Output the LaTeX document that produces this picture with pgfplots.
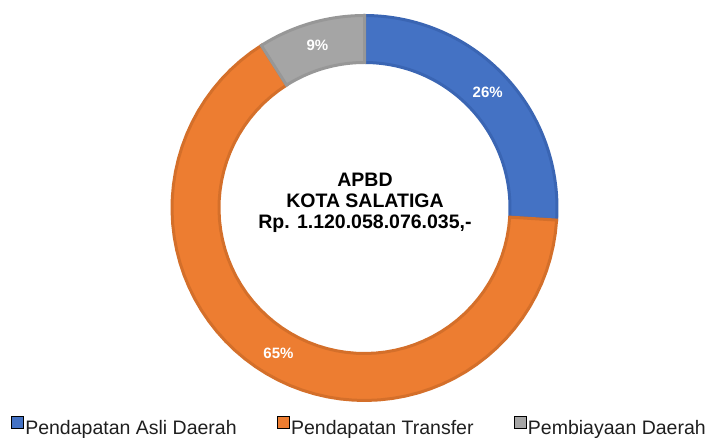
\documentclass[border=0pt]{standalone}
\usepackage{fontspec}
\setmainfont{Liberation Sans}
\usepackage{pgfplots}
\usepackage{pgfplotstable}
\pgfplotsset{compat=1.18}
\definecolor{cA}{HTML}{4472C4}\definecolor{cAd}{HTML}{3A65B3}
\definecolor{cB}{HTML}{ED7D31}\definecolor{cBd}{HTML}{D46F2A}
\definecolor{cC}{HTML}{A5A5A5}\definecolor{cCd}{HTML}{979797}
\pgfplotstableread{
idx value
0 26
1 65
2 9
}\apbd
\pgfplotstablegetelem{0}{value}\of\apbd \let\vA\pgfplotsretval
\pgfplotstablegetelem{1}{value}\of\apbd \let\vB\pgfplotsretval
\pgfplotstablegetelem{2}{value}\of\apbd \let\vC\pgfplotsretval
\pgfmathsetmacro\aA{90}
\pgfmathsetmacro\aB{90-3.6*\vA}
\pgfmathsetmacro\aC{\aB-3.6*\vB}
\pgfmathsetmacro\aD{\aC-3.6*\vC}
\pgfmathsetmacro\mA{(\aA+\aB)/2}
\pgfmathsetmacro\mB{(\aB+\aC)/2}
\pgfmathsetmacro\mC{(\aC+\aD)/2}
\def\cx{364.5}\def\cy{230}
\newcommand\ring[4]{%
\addplot[fill=#3, draw=#4, line width=3bp, line join=miter, forget plot,
  samples at={0,1,...,121}, variable=\t]
 ({\cx+ifthenelse(\t<=60,192.5,145.5)*cos(ifthenelse(\t<=60,(#1)+((#2)-(#1))*\t/60,(#2)+((#1)-(#2))*(\t-61)/60))},
  {\cy+ifthenelse(\t<=60,192.5,145.5)*sin(ifthenelse(\t<=60,(#1)+((#2)-(#1))*\t/60,(#2)+((#1)-(#2))*(\t-61)/60))}) -- cycle;
}
\begin{document}%
\begin{tikzpicture}
\begin{axis}[
  at={(0,0)}, anchor=origin,
  scale only axis, width=711bp, height=438bp,
  xmin=0, xmax=711, ymin=0, ymax=438,
  hide axis, clip=false,
  legend columns=3,
  legend image code/.code={\fill[#1] (0bp,0.5bp) rectangle (12bp,12bp);},
  legend style={at={(axis cs:10.7,1.6)}, anchor=south west, draw=none, fill=none,
    inner sep=0pt, font=\fontsize{19.5bp}{22bp}\selectfont, text=black!88,
    nodes={inner xsep=2bp, inner ysep=0pt},
    /tikz/every even column/.append style={column sep=38bp}},
]
\ring{\aA}{\aB}{cA}{cAd}
\ring{\aB}{\aC}{cB}{cBd}
\ring{\aC}{\aD}{cC}{cCd}
\addlegendimage{fill=cA}\addlegendentry{Pendapatan Asli Daerah}
\addlegendimage{fill=cB}\addlegendentry{Pendapatan Transfer}
\addlegendimage{fill=cC}\addlegendentry{Pembiayaan Daerah}
\node[text=white, font=\bfseries\fontsize{15bp}{17bp}\selectfont] at (axis cs:{\cx+169*cos(\mA)},{\cy+169*sin(\mA)}) {\vA\%};
\node[text=white, font=\bfseries\fontsize{15bp}{17bp}\selectfont] at (axis cs:{\cx+169*cos(\mB)},{\cy+169*sin(\mB)}) {\vB\%};
\node[text=white, font=\bfseries\fontsize{15bp}{17bp}\selectfont] at (axis cs:{\cx+169*cos(\mC)},{\cy+169*sin(\mC)}) {\vC\%};
\node[anchor=base, font=\bfseries\fontsize{19.5bp}{21bp}\selectfont] at (axis cs:365,251.5) {APBD};
\node[anchor=base, font=\bfseries\fontsize{19.5bp}{21bp}\selectfont] at (axis cs:365,230.5) {KOTA SALATIGA};
\node[anchor=base, font=\bfseries\fontsize{19.5bp}{21bp}\selectfont] at (axis cs:365,209.5) {Rp. 1.120.058.076.035,-};
\end{axis}
\pgfresetboundingbox
\path[use as bounding box] (0,0) rectangle (711bp,438bp);
\end{tikzpicture}%
\end{document}
